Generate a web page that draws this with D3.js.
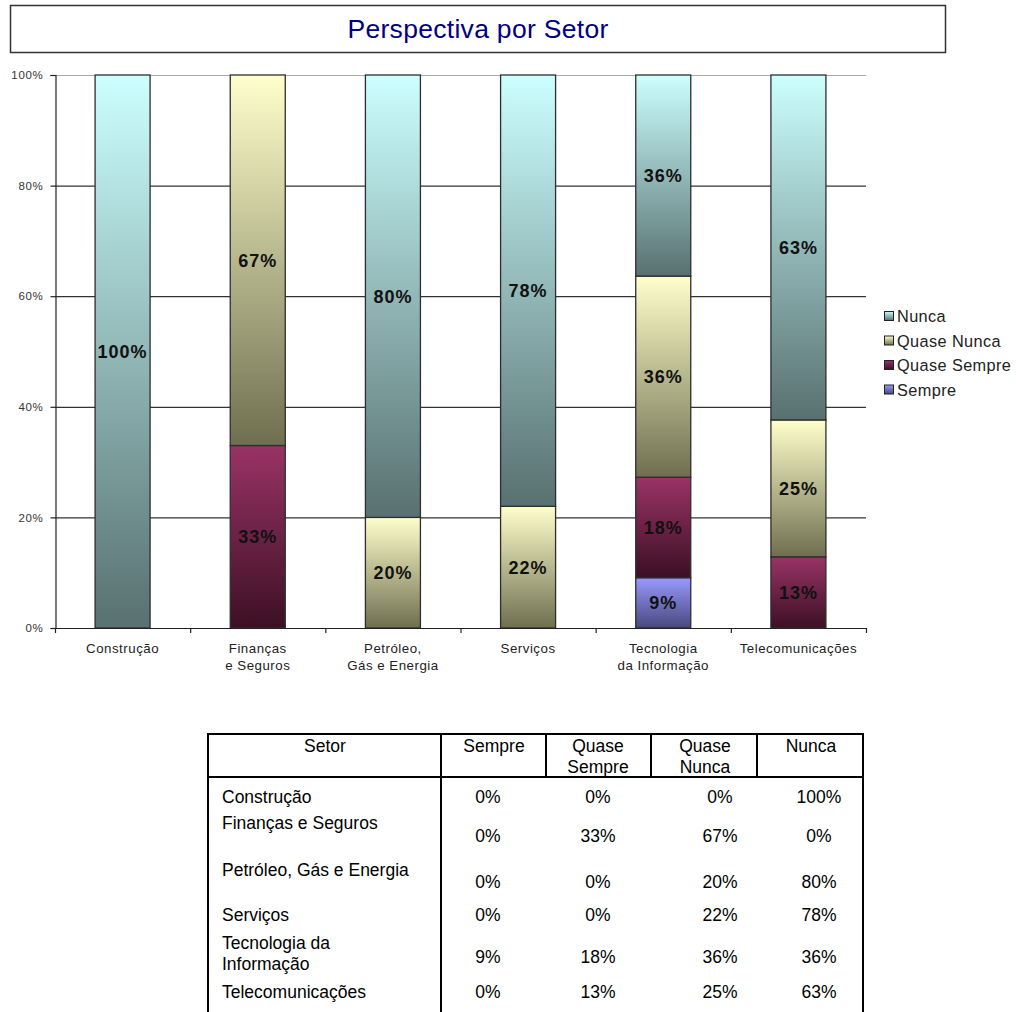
<!DOCTYPE html>
<html>
<head>
<meta charset="utf-8">
<script src="https://cdn.jsdelivr.net/npm/d3@7"></script>
<style>
  html, body { margin: 0; padding: 0; background: #fff; }
  svg { display: block; font-family: "Liberation Sans", Arial, sans-serif; }
</style>
</head>
<body>
<svg id="chart" width="1016" height="1012"></svg>
<script>
// Sectors (chart labels are split over lines, table labels too)
const sectors = ["Construção", "Finanças e Seguros", "Petróleo, Gás e Energia", "Serviços", "Tecnologia da Informação", "Telecomunicações"];
const axisLabels = [["Construção"], ["Finanças", "e Seguros"], ["Petróleo,", "Gás e Energia"], ["Serviços"], ["Tecnologia", "da Informação"], ["Telecomunicações"]];
const tableLabels = [["Construção"], ["Finanças e Seguros"], ["Petróleo, Gás e Energia"], ["Serviços"], ["Tecnologia da", "Informação"], ["Telecomunicações"]];

// Answer categories, stacked bottom to top
const seriesNames = ["Sempre", "Quase Sempre", "Quase Nunca", "Nunca"];
const sempre      = [0, 0, 0, 0, 9, 0];
const quaseSempre = [0, 33, 0, 0, 18, 13];
const quaseNunca  = [0, 67, 20, 22, 36, 25];
const nunca       = [100, 0, 80, 78, 36, 63];

const yTicks = [0, 0.2, 0.4, 0.6, 0.8, 1];

const rows = sectors.map((s, i) => ({
  sector: s,
  "Sempre": sempre[i],
  "Quase Sempre": quaseSempre[i],
  "Quase Nunca": quaseNunca[i],
  "Nunca": nunca[i]
}));

const gradStops = {
  "Nunca":        ["#ccffff", "#587070"],
  "Quase Nunca":  ["#ffffcc", "#6f6f50"],
  "Quase Sempre": ["#993366", "#3c1024"],
  "Sempre":       ["#9999ff", "#48487e"]
};

const svg = d3.select("#chart");
const defs = svg.append("defs");
seriesNames.forEach((name, i) => {
  const g = defs.append("linearGradient")
    .attr("id", "grad" + i)
    .attr("x1", 0).attr("y1", 0).attr("x2", 0).attr("y2", 1);
  g.append("stop").attr("offset", "0%").attr("stop-color", gradStops[name][0]);
  g.append("stop").attr("offset", "100%").attr("stop-color", gradStops[name][1]);
});

// Title box
svg.append("rect")
  .attr("x", 10.5).attr("y", 5.5).attr("width", 935).attr("height", 47)
  .attr("fill", "#fff").attr("stroke", "#333").attr("stroke-width", 1.5);
svg.append("text")
  .attr("x", 478).attr("y", 38)
  .attr("text-anchor", "middle")
  .attr("font-size", 26.5).attr("fill", "#000080")
  .attr("letter-spacing", 0.3)
  .text("Perspectiva por Setor");

// Plot area
const plot = { left: 55, right: 866, top: 75, bottom: 628 };
const x = d3.scaleBand().domain(sectors).range([plot.left, plot.right])
  .paddingInner(0.593).paddingOuter(0.2965);
const y = d3.scaleLinear().domain([0, 1]).range([plot.bottom, plot.top]);

// Grid lines
svg.append("g").selectAll("line").data(yTicks.filter(d => d > 0)).join("line")
  .attr("x1", plot.left).attr("x2", plot.right)
  .attr("y1", d => y(d) + 0.5).attr("y2", d => y(d) + 0.5)
  .attr("stroke", d => d === 1 ? "#aaa" : "#333").attr("stroke-width", 1.2);

// Stacked, normalised bars
const stacked = d3.stack().keys(seriesNames).offset(d3.stackOffsetExpand)(rows);

const layers = svg.append("g").selectAll("g").data(stacked).join("g")
  .attr("fill", (d, i) => `url(#grad${i})`);

layers.selectAll("rect").data(d => d.filter(p => p[1] - p[0] > 0)).join("rect")
  .attr("x", d => x(d.data.sector))
  .attr("width", x.bandwidth())
  .attr("y", d => y(d[1]))
  .attr("height", d => y(d[0]) - y(d[1]))
  .attr("stroke", "#2e2e2e").attr("stroke-width", 1.3);

// Value labels
stacked.forEach(layer => {
  svg.append("g").selectAll("text")
    .data(layer.filter(p => p[1] - p[0] > 0)).join("text")
    .attr("x", d => x(d.data.sector) + x.bandwidth() / 2)
    .attr("y", d => y((d[0] + d[1]) / 2) + 6.5)
    .attr("text-anchor", "middle")
    .attr("font-size", 18).attr("font-weight", "bold")
    .attr("letter-spacing", 1)
    .attr("fill", "#111")
    .text(d => d.data[layer.key] + "%");
});

// Y axis
const yAxis = d3.axisLeft(y).tickValues(yTicks).tickFormat(d3.format(".0%"))
  .tickSize(5).tickPadding(7);
const gy = svg.append("g").attr("transform", `translate(${plot.left + 0.5},0)`).call(yAxis);
gy.select(".domain").attr("stroke", "#222").attr("stroke-width", 1.2);
gy.selectAll(".tick line").attr("stroke", "#222").attr("stroke-width", 1.2);
gy.selectAll(".tick text").attr("font-size", 11.5).attr("fill", "#333")
  .attr("letter-spacing", 0.7).attr("font-family", "Liberation Sans, Arial, sans-serif");

// X axis line and boundary ticks
svg.append("line")
  .attr("x1", plot.left).attr("x2", plot.right)
  .attr("y1", plot.bottom + 0.5).attr("y2", plot.bottom + 0.5)
  .attr("stroke", "#222").attr("stroke-width", 1.2);
const boundaries = d3.range(sectors.length + 1).map(i => plot.left + i * x.step());
svg.append("g").selectAll("line").data(boundaries).join("line")
  .attr("x1", d => d + 0.5).attr("x2", d => d + 0.5)
  .attr("y1", plot.bottom).attr("y2", plot.bottom + 5)
  .attr("stroke", "#222").attr("stroke-width", 1.2);

// X labels
const xl = svg.append("g").selectAll("text").data(sectors).join("text")
  .attr("x", d => x(d) + x.bandwidth() / 2)
  .attr("y", 653)
  .attr("text-anchor", "middle")
  .attr("font-size", 13.3).attr("fill", "#222").attr("letter-spacing", 0.5);
xl.each(function(d, i) {
  d3.select(this).selectAll("tspan").data(axisLabels[i]).join("tspan")
    .attr("x", x(d) + x.bandwidth() / 2)
    .attr("dy", (t, j) => j === 0 ? 0 : 17)
    .text(t => t);
});

// Legend (top series first)
const legendOrder = seriesNames.slice().reverse();
const lg = svg.append("g").selectAll("g").data(legendOrder).join("g")
  .attr("transform", (d, i) => `translate(884, ${316 + i * 24.5})`);
lg.append("rect")
  .attr("x", 0.5).attr("y", -4.5).attr("width", 9).attr("height", 9)
  .attr("fill", d => `url(#grad${seriesNames.indexOf(d)})`)
  .attr("stroke", "#222").attr("stroke-width", 1);
lg.append("text")
  .attr("x", 13).attr("y", 6)
  .attr("font-size", 16.3).attr("fill", "#222").attr("letter-spacing", 0.4)
  .text(d => d);

// Data table
const table = { left: 208, right: 863, top: 734, headBottom: 777, bottom: 1012, setorSep: 441 };
const colSeps = [546, 651, 757];
const lineAttrs = sel => sel.attr("stroke", "#000").attr("stroke-width", 2);

const tg = svg.append("g");
tg.append("line").call(lineAttrs)
  .attr("x1", table.left).attr("x2", table.right).attr("y1", table.top).attr("y2", table.top);
tg.append("line").call(lineAttrs)
  .attr("x1", table.left).attr("x2", table.right).attr("y1", table.headBottom).attr("y2", table.headBottom);
[table.left, table.setorSep, table.right].forEach(xx => {
  tg.append("line").call(lineAttrs)
    .attr("x1", xx).attr("x2", xx).attr("y1", table.top - 1).attr("y2", table.bottom);
});
colSeps.forEach(xx => {
  tg.append("line").call(lineAttrs)
    .attr("x1", xx).attr("x2", xx).attr("y1", table.top).attr("y2", table.headBottom);
});

const headers = [
  { lines: ["Setor"], cx: 325 },
  { lines: ["Sempre"], cx: 494 },
  { lines: ["Quase", "Sempre"], cx: 598 },
  { lines: ["Quase", "Nunca"], cx: 705 },
  { lines: ["Nunca"], cx: 811 }
];
const tableFont = 17.5;
headers.forEach(h => {
  const t = tg.append("text").attr("text-anchor", "middle")
    .attr("font-size", tableFont).attr("fill", "#000").attr("y", 752);
  h.lines.forEach((ln, j) => t.append("tspan").attr("x", h.cx).attr("dy", j === 0 ? 0 : 21).text(ln));
});

// Row label baselines and value baselines
const labelY = [803, 829, 876, 921, 949, 998];
const valueY = [803, 842, 888, 921, 963, 998];
const valueCols = [
  { values: sempre, cx: 488 },
  { values: quaseSempre, cx: 598 },
  { values: quaseNunca, cx: 720 },
  { values: nunca, cx: 819 }
];
tableLabels.forEach((lines, i) => {
  const t = tg.append("text").attr("font-size", tableFont).attr("fill", "#000").attr("y", labelY[i]);
  lines.forEach((ln, j) => t.append("tspan").attr("x", 222).attr("dy", j === 0 ? 0 : 21).text(ln));
  valueCols.forEach(c => {
    tg.append("text").attr("text-anchor", "middle")
      .attr("font-size", tableFont).attr("fill", "#000")
      .attr("x", c.cx).attr("y", valueY[i])
      .text(c.values[i] + "%");
  });
});
</script>
</body>
</html>
